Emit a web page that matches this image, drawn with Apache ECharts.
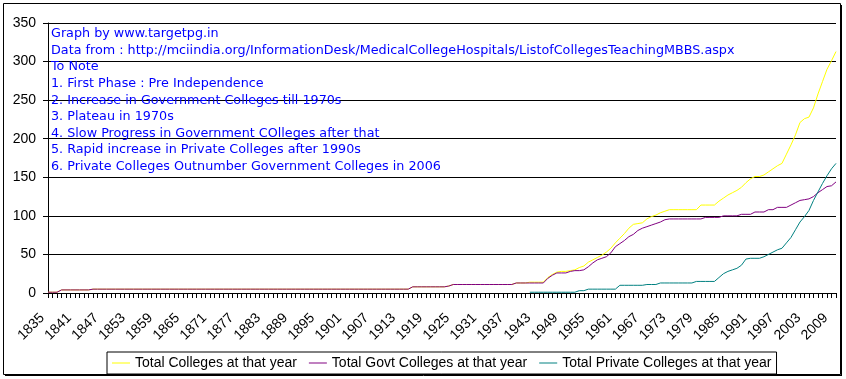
<!DOCTYPE html>
<html><head><meta charset="utf-8">
<script src="https://cdn.jsdelivr.net/npm/echarts@6/dist/echarts.min.js"></script>
<style>html,body{margin:0;padding:0;background:#fff}#c{width:846px;height:379px}</style>
</head><body><div id="c"></div>
<script>
const firstYear = 1835, lastYear = 2010;
const years = [];
for (let y = firstYear; y <= lastYear; y++) years.push(String(y));

const seriesNames = ['Total Colleges at that year', 'Total Govt Colleges at that year', 'Total Private Colleges at that year'];

// 1835 - 2010
const totalColleges = [
  1,1,1,
  4,4,4,4,4,4,4,
  5,5,5,5,5,5,5,5,5,5,
  5,5,5,5,5,5,5,5,5,5,
  5,5,5,5,5,5,5,5,5,5,
  5,5,5,5,5,5,5,5,5,5,
  5,5,5,5,5,5,5,5,5,5,
  5,5,5,5,5,5,5,5,5,5,
  5,5,5,5,5,5,5,5,5,5,
  5,
  8,8,8,8,8,8,8,8,
  9,
  11,11,11,11,11,11,11,11,11,11,11,11,11,11,
  13,13,13,
  14,14,14,14,
  20,24,27,28,28,29,30,33,35,40,43,46,49,53,58,65,71,77,84,89,90,91,96,99,101,104,106,
  108,108,108,108,108,108,108,
  114,114,114,114,
  119,123,127,130,133,137,143,148,151,151,153,157,161,165,168,180,192,205,221,226,228,240,258,274,290,301,313
];

// 1835 - 2010
const govtColleges = [
  1,1,1,
  4,4,4,4,4,4,4,
  5,5,5,5,5,5,5,5,5,5,
  5,5,5,5,5,5,5,5,5,5,
  5,5,5,5,5,5,5,5,5,5,
  5,5,5,5,5,5,5,5,5,5,
  5,5,5,5,5,5,5,5,5,5,
  5,5,5,5,5,5,5,5,5,5,
  5,5,5,5,5,5,5,5,5,5,
  5,
  8,8,8,8,8,8,8,8,
  9,
  11,11,11,11,11,11,11,11,11,11,11,11,11,11,
  13,13,13,13,13,13,13,
  19,23,26,26,26,28,29,29,30,34,39,43,45,47,52,60,64,68,73,76,81,84,86,88,90,92,95,
  96,96,96,96,96,96,96,96,
  98,98,98,98,
  100,100,100,100,
  102,102,102,
  105,105,105,
  108,108,
  111,111,111,
  114,117,120,121,122,125,130,134,138,139,144
];

// 1942 - 2010
const privateStartYear = 1942;
const privateColleges = [
  1,1,1,1,1,1,1,1,1,1,1,
  3,3,
  5,5,5,5,5,5,5,
  10,10,10,10,10,10,
  11,11,11,
  13,13,13,13,13,13,13,13,
  15,15,15,15,15,
  20,25,28,30,32,36,44,45,45,45,47,50,53,56,58,65,72,82,92,99,107,120,131,142,152,161,168
];

const yTicks = { min: 0, max: 350, interval: 50 };

const notes = [
  'Graph by www.targetpg.in',
  'Data from : http://mciindia.org/InformationDesk/MedicalCollegeHospitals/ListofCollegesTeachingMBBS.aspx',
  'To Note',
  '1. First Phase : Pre Independence',
  '2. Increase in Government Colleges till 1970s',
  '3. Plateau in 1970s',
  '4. Slow Progress in Government COlleges after that',
  '5. Rapid increase in Private Colleges after 1990s',
  '6. Private Colleges Outnumber Government Colleges in 2006'
];

const privateData = privateColleges.map((v, i) => [String(privateStartYear + i), v]);

const chart = echarts.init(document.getElementById('c'), null, { renderer: 'canvas' });
const axisFont = { fontFamily: '"Liberation Sans", Arial, sans-serif', fontSize: 14, color: '#000' };

chart.setOption({
  animation: false,
  backgroundColor: '#fff',
  grid: { left: 48, right: 10, top: 23, bottom: 86, containLabel: false },
  xAxis: {
    type: 'category',
    data: years,
    boundaryGap: false,
    axisLine: { lineStyle: { color: '#000', width: 1 } },
    axisTick: { show: true, interval: 0, length: 5, lineStyle: { color: '#000' } },
    axisLabel: Object.assign({ interval: 5, rotate: 45, margin: 17, padding: [0, 8, 0, 0] }, axisFont),
    splitLine: { show: false }
  },
  yAxis: {
    type: 'value',
    min: yTicks.min, max: yTicks.max, interval: yTicks.interval,
    axisLine: { show: true, lineStyle: { color: '#000', width: 1 } },
    axisTick: { show: true, length: 5, lineStyle: { color: '#000' } },
    axisLabel: Object.assign({ margin: 12 }, axisFont),
    splitLine: { show: true, lineStyle: { color: '#000', width: 1 } }
  },
  legend: {
    left: 107, top: 352,
    padding: [3, 5],
    borderColor: '#000', borderWidth: 1,
    icon: 'rect',
    itemWidth: 18, itemHeight: 1, itemGap: 12,
    textStyle: { fontFamily: '"Liberation Sans", Arial, sans-serif', fontSize: 14, color: '#000', lineHeight: 16 },
    data: seriesNames
  },
  series: [
    { name: seriesNames[0], type: 'line', data: totalColleges, symbol: 'none', lineStyle: { color: '#FFFF00', width: 1 }, itemStyle: { color: '#FFFF00' } },
    { name: seriesNames[1], type: 'line', data: govtColleges, symbol: 'none', lineStyle: { color: '#800080', width: 1 }, itemStyle: { color: '#800080' } },
    { name: seriesNames[2], type: 'line', data: privateData, symbol: 'none', lineStyle: { color: '#008080', width: 1 }, itemStyle: { color: '#008080' } }
  ],
  graphic: [
    { type: 'text', left: 51, top: 25.5, z: 100, style: { text: notes.join('\n'), fill: '#0000ff', fontFamily: '"DejaVu Sans", Verdana, sans-serif', fontSize: 12.75, lineHeight: 16.6 } },
    { type: 'rect', z: 100, shape: { x: 3.5, y: 3.5, width: 837, height: 371 }, style: { fill: 'none', stroke: '#000', lineWidth: 1 } },
    { type: 'line', z: 100, shape: { x1: 841.5, y1: 5, x2: 841.5, y2: 376 }, style: { stroke: '#000', lineWidth: 1 } },
    { type: 'line', z: 100, shape: { x1: 5, y1: 375.5, x2: 842, y2: 375.5 }, style: { stroke: '#000', lineWidth: 1 } }
  ]
});
</script>
</body></html>
